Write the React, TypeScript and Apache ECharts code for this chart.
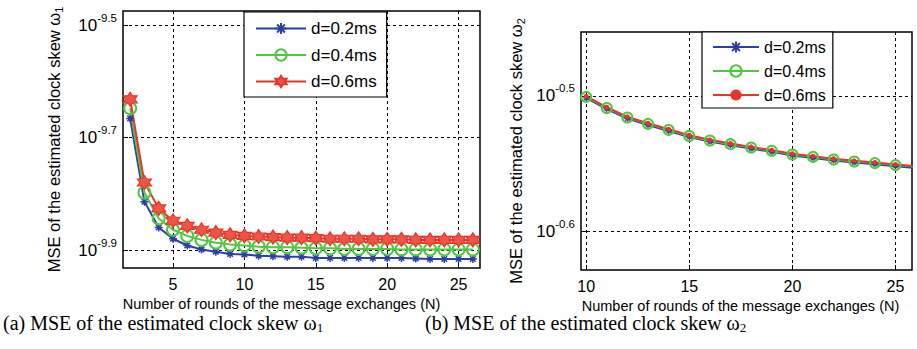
import React, { useEffect, useRef } from "react";
import * as echarts from "echarts";

// ---------- data ----------
const leftN = [2, 3, 4, 5, 6, 7, 8, 9, 10, 11, 12, 13, 14, 15, 16, 17, 18, 19, 20, 21, 22, 23, 24, 25, 26];
// log10(MSE) values, panel (a)
const leftD02 = [-9.666, -9.814, -9.86, -9.88, -9.892, -9.899, -9.903, -9.907, -9.908, -9.91, -9.911, -9.912, -9.912, -9.914, -9.914, -9.914, -9.914, -9.914, -9.914, -9.914, -9.915, -9.916, -9.916, -9.916, -9.916];
const leftD04 = [-9.648, -9.798, -9.844, -9.864, -9.875, -9.882, -9.887, -9.89, -9.892, -9.894, -9.895, -9.895, -9.896, -9.897, -9.897, -9.898, -9.898, -9.898, -9.898, -9.899, -9.899, -9.899, -9.899, -9.899, -9.899];
const leftD06 = [-9.632, -9.78, -9.826, -9.848, -9.857, -9.864, -9.869, -9.873, -9.875, -9.876, -9.877, -9.878, -9.878, -9.879, -9.88, -9.88, -9.88, -9.881, -9.881, -9.881, -9.882, -9.882, -9.882, -9.882, -9.882];

const rightN = [10, 11, 12, 13, 14, 15, 16, 17, 18, 19, 20, 21, 22, 23, 24, 25, 26];
// log10(MSE) values, panel (b)
const rightD02 = [-0.5015, -0.5097, -0.5168, -0.5215, -0.5259, -0.5304, -0.5338, -0.5365, -0.539, -0.5414, -0.5441, -0.5459, -0.5478, -0.5493, -0.5505, -0.552, -0.5533];
const rightD04 = [-0.5007, -0.5089, -0.516, -0.5207, -0.5251, -0.5296, -0.533, -0.5357, -0.5382, -0.5406, -0.5433, -0.5451, -0.547, -0.5485, -0.5497, -0.5512, -0.5525];
const rightD06 = [-0.5002, -0.5084, -0.5155, -0.5202, -0.5246, -0.5291, -0.5325, -0.5352, -0.5377, -0.5401, -0.5428, -0.5446, -0.5465, -0.548, -0.5492, -0.5507, -0.552];

const seriesNames = ["d=0.2ms", "d=0.4ms", "d=0.6ms"];
const leftXTicks = [5, 10, 15, 20, 25];
const leftYTicks = [-9.9, -9.7, -9.5];
const rightXTicks = [10, 15, 20, 25];
const rightYTicks = [-0.6, -0.5];

const xTitle = "Number of rounds of the message exchanges (N)";
const yTitle = "MSE of the estimated clock skew ω";
const captionA = "(a) MSE of the estimated clock skew ω";
const captionB = "(b) MSE of the estimated clock skew ω";

// ---------- styles ----------
const FONT = "Liberation Sans";
const SERIF = "Liberation Serif";
const BLUE = "#2b3fa6";
const GREEN = "#52c640";
const RED = "#e6342b";

const ASTERISK = "path://M5 0L5 10M0 5L10 5M1.5 1.5L8.5 8.5M8.5 1.5L1.5 8.5";
const HEXAGRAM = "path://M10 0L12.89 5L18.66 5L15.77 10L18.66 15L12.89 15L10 20L7.11 15L1.34 15L4.23 10L1.34 5L7.11 5Z";

const zip = (xs: number[], ys: number[]) => xs.map((x, i) => [x, ys[i]]);

const tickLabel = (v: number) => `{base|10}{sup|${v.toFixed(1)}}`;
const tickRich = {
  base: { fontFamily: FONT, fontSize: 17, color: "#000" },
  sup: { fontFamily: FONT, fontSize: 11.5, color: "#000", padding: [0, 0, 15, 0] },
};

function xAxis(grid: number, min: number, max: number, ticks: number[], padRight: number) {
  return {
    gridIndex: grid,
    type: "value",
    min,
    max,
    axisLine: { show: false },
    axisTick: { show: true, inside: true, length: 5, customValues: ticks, lineStyle: { color: "#000", width: 1 } },
    axisLabel: { customValues: ticks, fontFamily: FONT, fontSize: 16, color: "#000", margin: 8 },
    splitLine: { show: true, lineStyle: { color: "#000", type: [3, 3], width: 1 } },
    name: xTitle,
    nameLocation: "middle",
    nameGap: 25,
    nameTextStyle: { fontFamily: FONT, fontSize: 14.5, lineHeight: 14, color: "#000", padding: [0, padRight, 0, 0] },
  };
}

function yAxis(grid: number, min: number, max: number, ticks: number[], sub: string, gap: number) {
  return {
    gridIndex: grid,
    type: "value",
    min,
    max,
    axisLine: { show: false },
    axisTick: { show: true, inside: true, length: 5, customValues: ticks, lineStyle: { color: "#000", width: 1 } },
    axisLabel: { customValues: ticks, formatter: tickLabel, rich: tickRich, margin: 6 },
    splitLine: { show: true, lineStyle: { color: "#000", type: [3, 3], width: 1 } },
    name: `{a|${yTitle}}{s|${sub}}`,
    nameLocation: "middle",
    nameGap: gap,
    nameTextStyle: {
      fontFamily: FONT,
      fontSize: 16.5,
      color: "#000",
      rich: {
        a: { fontFamily: FONT, fontSize: 16.5, color: "#000" },
        s: { fontFamily: FONT, fontSize: 11, color: "#000", padding: [9, 0, 0, 0] },
      },
    },
  };
}

function lineSeries(name: string, grid: number, data: number[][], color: string, symbol: string, size: number, fill: string, bw: number) {
  return {
    type: "line",
    name,
    xAxisIndex: grid,
    yAxisIndex: grid,
    data,
    symbol,
    symbolSize: size,
    showAllSymbol: true,
    lineStyle: { color, width: 2 },
    itemStyle: { color: fill, borderColor: color, borderWidth: bw },
    clip: true,
  };
}

const rightNames = seriesNames.map((n) => n + "#b");

function legend(names: string[], left: number, top: number, w: number, h: number, gap: number, pad: number[], fs: number) {
  return {
    left,
    top,
    orient: "vertical",
    itemWidth: w,
    itemHeight: h,
    itemGap: gap,
    padding: pad,
    borderColor: "#000",
    borderWidth: 1.2,
    backgroundColor: "#fff",
    selectedMode: false,
    formatter: (n: string) => n.replace("#b", ""),
    textStyle: { fontFamily: FONT, fontSize: fs, color: "#000" },
    data: names,
  };
}

const option = {
  animation: false,
  grid: [
    { left: 123, top: 11, width: 357, height: 257, show: true, borderColor: "#000", borderWidth: 1.5, backgroundColor: "transparent" },
    { left: 581, top: 32, width: 331, height: 238, show: true, borderColor: "#000", borderWidth: 1.5, backgroundColor: "transparent" },
  ],
  xAxis: [xAxis(0, 1.5, 26.5, leftXTicks, 40), xAxis(1, 9.75, 25.8, rightXTicks, 12)],
  yAxis: [yAxis(0, -9.932, -9.475, leftYTicks, "1", 59), yAxis(1, -0.6288, -0.4527, rightYTicks, "2", 55)],
  legend: [
    legend(seriesNames, 244, 12, 50, 14, 9.5, [8, 10, 7, 11], 17),
    legend(rightNames, 702, 32, 46, 14, 8, [7, 7, 5, 10], 16),
  ],
  series: [
    lineSeries(seriesNames[0], 0, zip(leftN, leftD02), BLUE, ASTERISK, 8, BLUE, 1.5),
    lineSeries(seriesNames[1], 0, zip(leftN, leftD04), GREEN, "circle", 12, "rgba(255,255,255,0)", 2),
    lineSeries(seriesNames[2], 0, zip(leftN, leftD06), RED, HEXAGRAM, 14, "#ee5546", 1.2),
    lineSeries(rightNames[0], 1, zip(rightN, rightD02), BLUE, ASTERISK, 6, BLUE, 1.2),
    lineSeries(rightNames[1], 1, zip(rightN, rightD04), GREEN, "circle", 10, "rgba(255,255,255,0)", 2),
    lineSeries(rightNames[2], 1, zip(rightN, rightD06), RED, "circle", 5, RED, 0),
  ],
  graphic: [
    {
      type: "text",
      left: 3,
      top: 313,
      style: {
        text: `{a|${captionA}}{s|1}`,
        rich: {
          a: { fontFamily: SERIF, fontSize: 20, fill: "#000" },
          s: { fontFamily: SERIF, fontSize: 13, fill: "#000", padding: [8, 0, 0, 0] },
        },
      },
    },
    {
      type: "text",
      left: 425,
      top: 313,
      style: {
        text: `{a|${captionB}}{s|2}`,
        rich: {
          a: { fontFamily: SERIF, fontSize: 20, fill: "#000" },
          s: { fontFamily: SERIF, fontSize: 13, fill: "#000", padding: [8, 0, 0, 0] },
        },
      },
    },
  ],
};

export default function App() {
  const ref = useRef<HTMLDivElement>(null);
  useEffect(() => {
    document.body.style.margin = "0";
    const chart = echarts.init(ref.current!, null, { renderer: "svg" });
    chart.setOption(option as any);
    return () => chart.dispose();
  }, []);
  return <div ref={ref} style={{ width: 917, height: 349 }} />;
}
